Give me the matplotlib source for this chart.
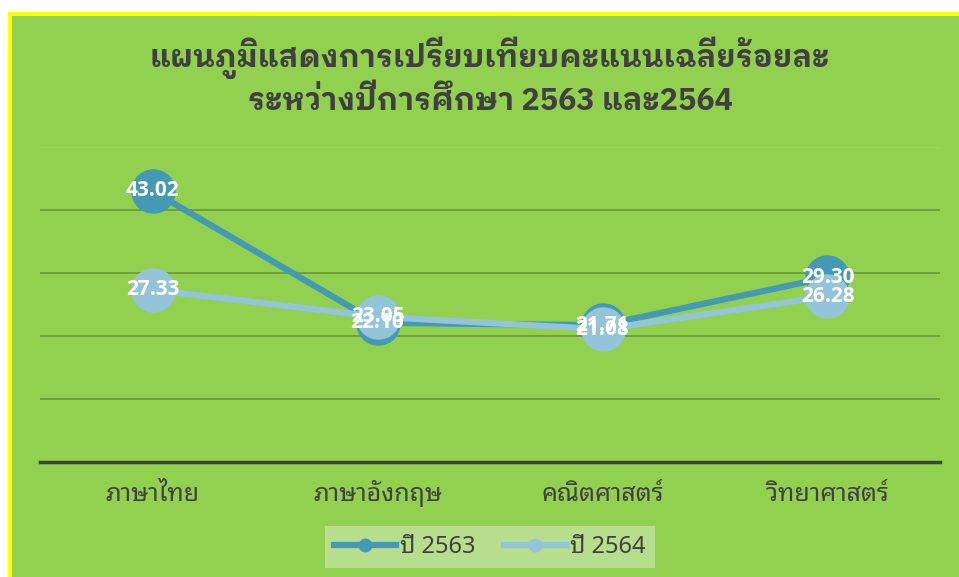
import matplotlib.pyplot as plt
from matplotlib.patches import Rectangle
from matplotlib.lines import Line2D

plt.rcParams['font.family'] = ['Noto Sans Thai Looped', 'Noto Sans', 'DejaVu Sans']

# data
subjects = ['ภาษาไทย', 'ภาษาอังกฤษ', 'คณิตศาสตร์', 'วิทยาศาสตร์']
scores_2563 = [43.02, 22.10, 21.71, 29.30]
scores_2564 = [27.33, 23.05, 21.08, 26.28]
series_names = ['ปี 2563', 'ปี 2564']
title = 'แผนภูมิแสดงการเปรียบเทียบคะแนนเฉลี่ยร้อยละ\nระหว่างปีการศึกษา 2563 และ2564'
grid_vals = [10, 20, 30, 40, 50]

W, H = 959, 577
fig = plt.figure(figsize=(W / 100, H / 100), dpi=100)
fig.patch.set_facecolor('white')

# yellow frame + green chart area (frame runs off the right/bottom edge)
fig.patches.append(Rectangle((8 / W, -0.1), 1.2, 1.1 - 12 / H, transform=fig.transFigure,
                             facecolor='#FFFF00', edgecolor='none', zorder=-2))
fig.patches.append(Rectangle((12 / W, -0.1), 1.2, 1.1 - 16 / H, transform=fig.transFigure,
                             facecolor='#92D050', edgecolor='none', zorder=-1))

ax = fig.add_axes([40 / W, 1 - 462 / H, 900 / W, 315 / H])
ax.set_facecolor('none')
x = list(range(len(subjects)))

for v in grid_vals:
    col = '#adc194' if v == grid_vals[-1] else '#6f9a3c'
    ax.axhline(v, color=col, lw=1.3, zorder=1)

dark = '#4499B5'
light = '#93C4D9'
ax.plot(x, scores_2563, color=dark, lw=4.5, marker='o', ms=31, zorder=3, solid_capstyle='round')
ax.plot(x, scores_2564, color=light, lw=4.5, marker='o', ms=31, zorder=4, solid_capstyle='round')

num_font = ['Open Sans', 'DejaVu Sans']
for i in x:
    ax.text(i, scores_2563[i], '%.2f' % scores_2563[i], ha='center', va='center',
            color='white', fontsize=15, fontweight='bold', family=num_font, zorder=5)
    ax.text(i, scores_2564[i], '%.2f' % scores_2564[i], ha='center', va='center',
            color='white', fontsize=15, fontweight='bold', family=num_font, zorder=5)

ax.set_xlim(-0.5, 3.5)
ax.set_ylim(0, 50)
ax.set_yticks([])
ax.set_xticks(x)
ax.set_xticklabels(subjects, fontsize=18, color='#404040')
ax.tick_params(axis='x', length=0, pad=28)
for lbl in ax.get_xticklabels():
    lbl.set_verticalalignment('baseline')
for s in ['top', 'right', 'left']:
    ax.spines[s].set_visible(False)
ax.spines['bottom'].set_color('#404040')
ax.spines['bottom'].set_linewidth(2.5)

fig.text(490 / W, 1 - 76 / H, title, ha='center', va='center', fontsize=22,
         fontweight='bold', color='#404040', linespacing=1.25,
         family=['IBM Plex Sans Thai Looped', 'Open Sans', 'DejaVu Sans'])

handles = [Line2D([], [], color=dark, lw=4.5, marker='o', ms=9),
           Line2D([], [], color=light, lw=4.5, marker='o', ms=9)]
leg = fig.legend(handles, series_names, loc='center', bbox_to_anchor=(490 / W, 1 - 547 / H),
                 ncol=2, fontsize=17, frameon=True, fancybox=False, handlelength=2.6,
                 handletextpad=0.2, columnspacing=1.2, borderpad=0.4)
leg.get_frame().set_facecolor('#B6DE8D')
leg.get_frame().set_edgecolor('none')
leg.get_frame().set_alpha(1)
for t in leg.get_texts():
    t.set_color('#404040')

fig.savefig('out.png', dpi=100)
